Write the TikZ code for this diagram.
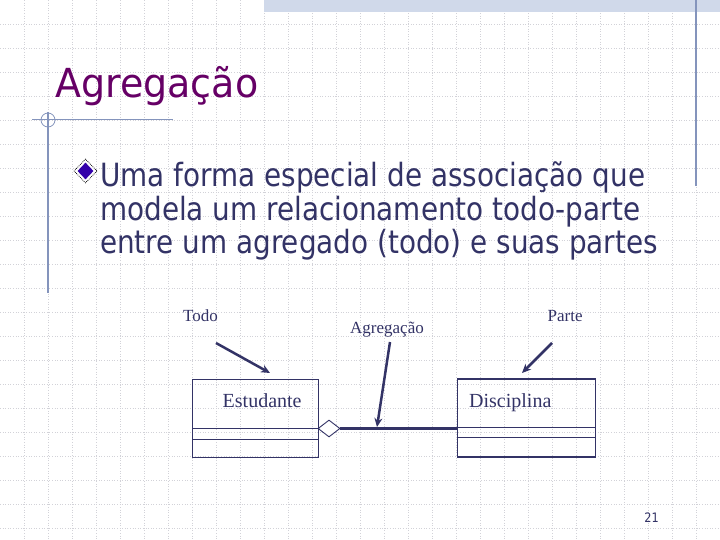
\documentclass[tikz,border=0pt]{standalone}
\usepackage{fontspec}
\usepackage{tikz}
\usetikzlibrary{arrows.meta,shapes.geometric}

\newfontfamily\titlefont[FakeStretch=0.95]{DejaVu Sans}
\newfontfamily\bodyfont[FakeStretch=0.87]{DejaVu Sans}
\newfontfamily\umlfont{Liberation Serif}

\definecolor{titlepurple}{HTML}{660066}
\definecolor{bodyblue}{HTML}{333366}
\definecolor{bulletblue}{HTML}{3300AA}
\definecolor{rulerblue}{HTML}{8494BC}
\definecolor{gridgray}{HTML}{D2D2D8}
\definecolor{bandblue}{HTML}{D0D9EA}

\tikzset{
    gridline/.style={draw=gridgray, line width=0.6pt, dotted},
    rulerline/.style={draw=rulerblue, line width=1.4pt},
    classbox/.style={draw=bodyblue, line width=1.2pt, rectangle, inner sep=0pt},
    classname/.style={font=\umlfont\fontsize{20}{22}\selectfont, text=bodyblue, anchor=base west, inner sep=0pt},
    umllabel/.style={font=\umlfont\fontsize{17}{19}\selectfont, text=bodyblue, anchor=base west, inner sep=0pt},
    bodyline/.style={font=\bodyfont\fontsize{32}{34}\selectfont, text=bodyblue, anchor=base west, inner sep=0pt},
    pointer/.style={draw=bodyblue, line width=2.5pt, -{Stealth[length=9pt,width=8pt]}},
    assoc/.style={draw=bodyblue, line width=2.6pt}
}

\begin{document}
\begin{tikzpicture}[x=1pt, y=-1pt]
    \useasboundingbox (0,0) rectangle (720,540);
    \fill[white] (0,0) rectangle (720,540);

    % background grid
    \foreach \gx in {24,48,...,696} \draw[gridline] (\gx,0) -- (\gx,540);
    \foreach \gy in {24,48,...,528} \draw[gridline] (0,\gy) -- (720,\gy);

    % top band and rulers
    \fill[bandblue] (264,0) rectangle (720,12.5);
    \draw[rulerline] (696,0) -- (696,186);
    \draw[rulerline] (32,119.5) -- (173,119.5);
    \draw[rulerline] (48,112) -- (48,293);
    \draw[draw=rulerblue, line width=0.8pt] (48,120) circle (7);

    % title
    \node[font=\titlefont\fontsize{40}{44}\selectfont, text=titlepurple, anchor=base west, inner sep=0pt] (titulo) at (55,98) {Agregação};

    % bullet and text
    \node[diamond, draw=black, densely dotted, line width=0.8pt, minimum width=23pt, minimum height=24pt, inner sep=0pt] (marcaborda) at (85.5,171) {};
    \node[diamond, fill=bulletblue, draw=white, line width=1.5pt, minimum width=19pt, minimum height=20pt, inner sep=0pt] (marca) at (85.5,171) {};
    \node[bodyline] (linha1) at (100,187) {Uma forma especial de associação que};
    \node[bodyline] (linha2) at (100,220.5) {modela um relacionamento todo-parte};
    \node[bodyline] (linha3) at (100,254) {entre um agregado (todo) e suas partes};

    % classes
    \node[classbox, minimum width=126pt, minimum height=78pt, anchor=north west] (estudante) at (192,379) {};
    \draw[draw=bodyblue, line width=1.2pt] (estudante.west |- 0,428.5) -- (estudante.east |- 0,428.5);
    \draw[draw=bodyblue, line width=1.2pt] (estudante.west |- 0,439.5) -- (estudante.east |- 0,439.5);
    \node[classname] (estnome) at (222.5,407) {Estudante};

    \node[classbox, minimum width=137.5pt, minimum height=78pt, anchor=north west] (disciplina) at (457,378.3) {};
    \draw[draw=bodyblue, line width=1.2pt] (disciplina.west |- 0,427.3) -- (disciplina.east |- 0,427.3);
    \draw[draw=bodyblue, line width=1.2pt] (disciplina.west |- 0,437.8) -- (disciplina.east |- 0,437.8);
    \node[classname] (discnome) at (469,407) {Disciplina};

    % aggregation
    \node[diamond, draw=bodyblue, fill=white, line width=0.9pt, minimum width=22pt, minimum height=17pt, inner sep=0pt] (losango) at (329,428.5) {};
    \draw[assoc] (losango.east) -- (disciplina.west |- losango.east);

    % labels with pointers
    \node[umllabel] (todo) at (183,321) {Todo};
    \node[umllabel] (agreg) at (350,333.5) {Agregação};
    \node[umllabel] (parte) at (547.5,321) {Parte};
    \coordinate (todoA) at (216,343);
    \coordinate (todoB) at (270,373);
    \coordinate (agregA) at (390,342);
    \coordinate (agregB) at (377,427);
    \coordinate (parteA) at (552,343);
    \coordinate (parteB) at (522,373);
    \draw[pointer] (todoA) -- (todoB);
    \draw[pointer] (agregA) -- (agregB);
    \draw[pointer] (parteA) -- (parteB);

    % page number
    \node[font=\bodyfont\fontsize{13}{15}\selectfont, text=bodyblue, inner sep=0pt] (pagina) at (651.5,517.5) {21};
\end{tikzpicture}
\end{document}
